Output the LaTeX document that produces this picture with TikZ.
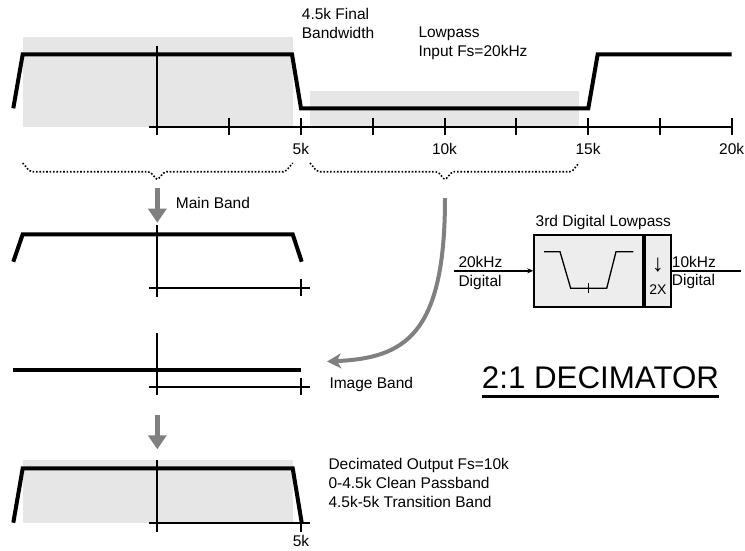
\documentclass[tikz,border=0pt]{standalone}
\usepackage{fontspec}
\setmainfont{Liberation Sans}
\usetikzlibrary{arrows.meta,positioning}
\definecolor{bandgray}{RGB}{230,230,230}
\definecolor{boxgray}{RGB}{237,237,237}
\definecolor{flowgray}{RGB}{128,128,128}
\definecolor{ink}{RGB}{0,0,0}
\tikzset{
  >={Stealth[length=6pt,width=5pt]},
  lbl/.style={font=\fontsize{15.5}{19}\selectfont,inner sep=0pt,align=left,text=ink},
  resp/.style={draw=ink,line width=4pt,line join=miter},
  axisline/.style={draw=ink,line width=2pt},
  passband/.style={fill=bandgray},
  brace/.style={draw=ink,line width=1.6pt,dash pattern=on 1.6pt off 1.8pt,rounded corners=2pt},
  flow/.style={draw=flowgray,line width=4.5pt,-{Triangle[length=14pt,width=18pt]}},
  bend flow/.style={draw=flowgray,line width=4pt,-{Stealth[length=14pt,width=15pt,inset=4pt]}},
  filterbox/.style={draw=ink,line width=2pt,fill=boxgray,inner sep=0pt,minimum height=71.7pt},
}
\begin{document}
\begin{tikzpicture}[x=1pt,y=-1pt]
  \useasboundingbox (0,0) rectangle (745,550);
  % input spectrum, 0..20k
  \fill[passband] (22.7,36.7) rectangle (292.7,126.7);
  \fill[passband] (310,90.7) rectangle (579,126.7);
  \draw[axisline] (149,126.7) -- (731.7,126.7);
  \draw[axisline] (157.3,46) -- (157.3,135);
  \foreach \k in {1,...,8} \draw[axisline] (157.3+71.8*\k,118) -- ++(0,17);
  \draw[resp] (13.3,108.3) -- (22.7,54.3) -- (292,54.3) -- (301,108.3) -- (588.3,108.3)
    -- (597.7,54.3) -- (731.7,54.3);
  \foreach \k/\f in {2/5k,4/10k,6/15k,8/20k}
    \node[lbl,anchor=base] (tick\k) at (157.3+71.8*\k,154.5) {\f};
  \node[lbl,anchor=north west] (finalbw) at (301.7,7.9) {4.5k Final\\Bandwidth};
  \node[lbl,anchor=north west] (lowpass) at (418.3,26.6) {Lowpass\\Input Fs=20kHz};
  \foreach \a/\m/\b in {22.7/157.3/292.7,310/445/579}
    \draw[brace] (\a,163) -- (\a+7.3,171.7) -- (\m-7.3,171.7) -- (\m,180) -- (\m+7.3,171.7)
      -- (\b-7.3,171.7) -- (\b,163);

  % main band
  \coordinate (mainfrom) at (157.3,188.3);
  \coordinate (maintip) at (157.3,222.7);
  \draw[flow] (mainfrom) -- (maintip);
  \node[lbl,anchor=base west] (mainlbl) at (175.7,208.2) {Main Band};
  \draw[axisline] (157.3,225) -- (157.3,296.7);
  \draw[axisline] (149,287.7) -- (310,287.7);
  \draw[axisline] (301,279.2) -- (301,296.2);
  \draw[resp] (13.3,261.7) -- (22.7,234.3) -- (292.7,234.3) -- (301.7,261.7);

  % image band
  \coordinate (imgfrom) at (445,198);
  \coordinate (imgtip) at (327,361.5);
  \draw[bend flow] (imgfrom) .. controls (445,335) and (405,358) .. (imgtip);
  \node[lbl,anchor=base west] (imglbl) at (329.3,388.5) {Image Band};
  \draw[axisline] (157.3,333.3) -- (157.3,395);
  \draw[axisline] (149,386.7) -- (310,386.7);
  \draw[axisline] (301,378.2) -- (301,395.2);
  \draw[resp] (13.3,370) -- (301,370);

  % decimated output
  \coordinate (outfrom) at (157.3,415);
  \coordinate (outtip) at (157.3,449.3);
  \draw[flow] (outfrom) -- (outtip);
  \fill[passband] (22.7,460) rectangle (292.7,522.7);
  \draw[axisline] (157.3,460) -- (157.3,531.7);
  \draw[axisline] (149,522.7) -- (310,522.7);
  \draw[axisline] (301,513.7) -- (301,531.7);
  \draw[resp] (13.3,522.7) -- (22.7,468.3) -- (292.7,468.3) -- (301.7,522.7);
  \node[lbl,anchor=base] (outk) at (301,546.8) {5k};
  \node[lbl,anchor=north west] (declbl) at (328.3,458.2)
    {Decimated Output Fs=10k\\0-4.5k Clean Passband\\4.5k-5k Transition Band};

  % block diagram
  \node[filterbox,minimum width=108.4pt] (lpf) at (588.5,270.8) {};
  \node[filterbox,minimum width=26.3pt,anchor=west] (dec) at (lpf.east) {};
  \begin{scope}[shift={(lpf.center)}]
    \draw[line width=1.3pt] (-44.5,-19.1) -- (-28.5,-19.1) -- (-17.8,17.5) -- (18.2,17.5)
      -- (27.5,-19.1) -- (44.8,-19.1);
    \draw[line width=0.8pt] (-0.2,12.2) -- (-0.2,22.2);
  \end{scope}
  \node[lbl,font=\fontsize{24}{24}\selectfont] (dnarrow) at ([yshift=5.8pt]dec.center) {↓};
  \node[lbl,font=\fontsize{14}{14}\selectfont] (twox) at ([yshift=-19.2pt]dec.center) {2X};
  \node[lbl,anchor=base] (lpftitle) at (603.3,226.7) {3rd Digital Lowpass};
  \coordinate (src) at (454,270.8);
  \coordinate (sink) at (740.5,270.8);
  \draw[axisline,->] (src) -- (lpf.west);
  \draw[axisline] (dec.east) -- (sink);
  \node[lbl,anchor=north west,font=\fontsize{15.5}{18.5}\selectfont] (inlbl) at (458.3,256.2) {20kHz\\Digital};
  \node[lbl,anchor=north west,font=\fontsize{15.5}{18.5}\selectfont] (outlbl) at (671.7,255.6) {10kHz\\Digital};

  \node[inner sep=0pt,font=\fontsize{31.3}{34}\selectfont,anchor=base west] (title) at (481.7,388.8) {2:1 DECIMATOR};
  \draw[line width=3pt] ([yshift=-8pt]title.base west) -- ([yshift=-8pt]title.base east);
\end{tikzpicture}
\end{document}
